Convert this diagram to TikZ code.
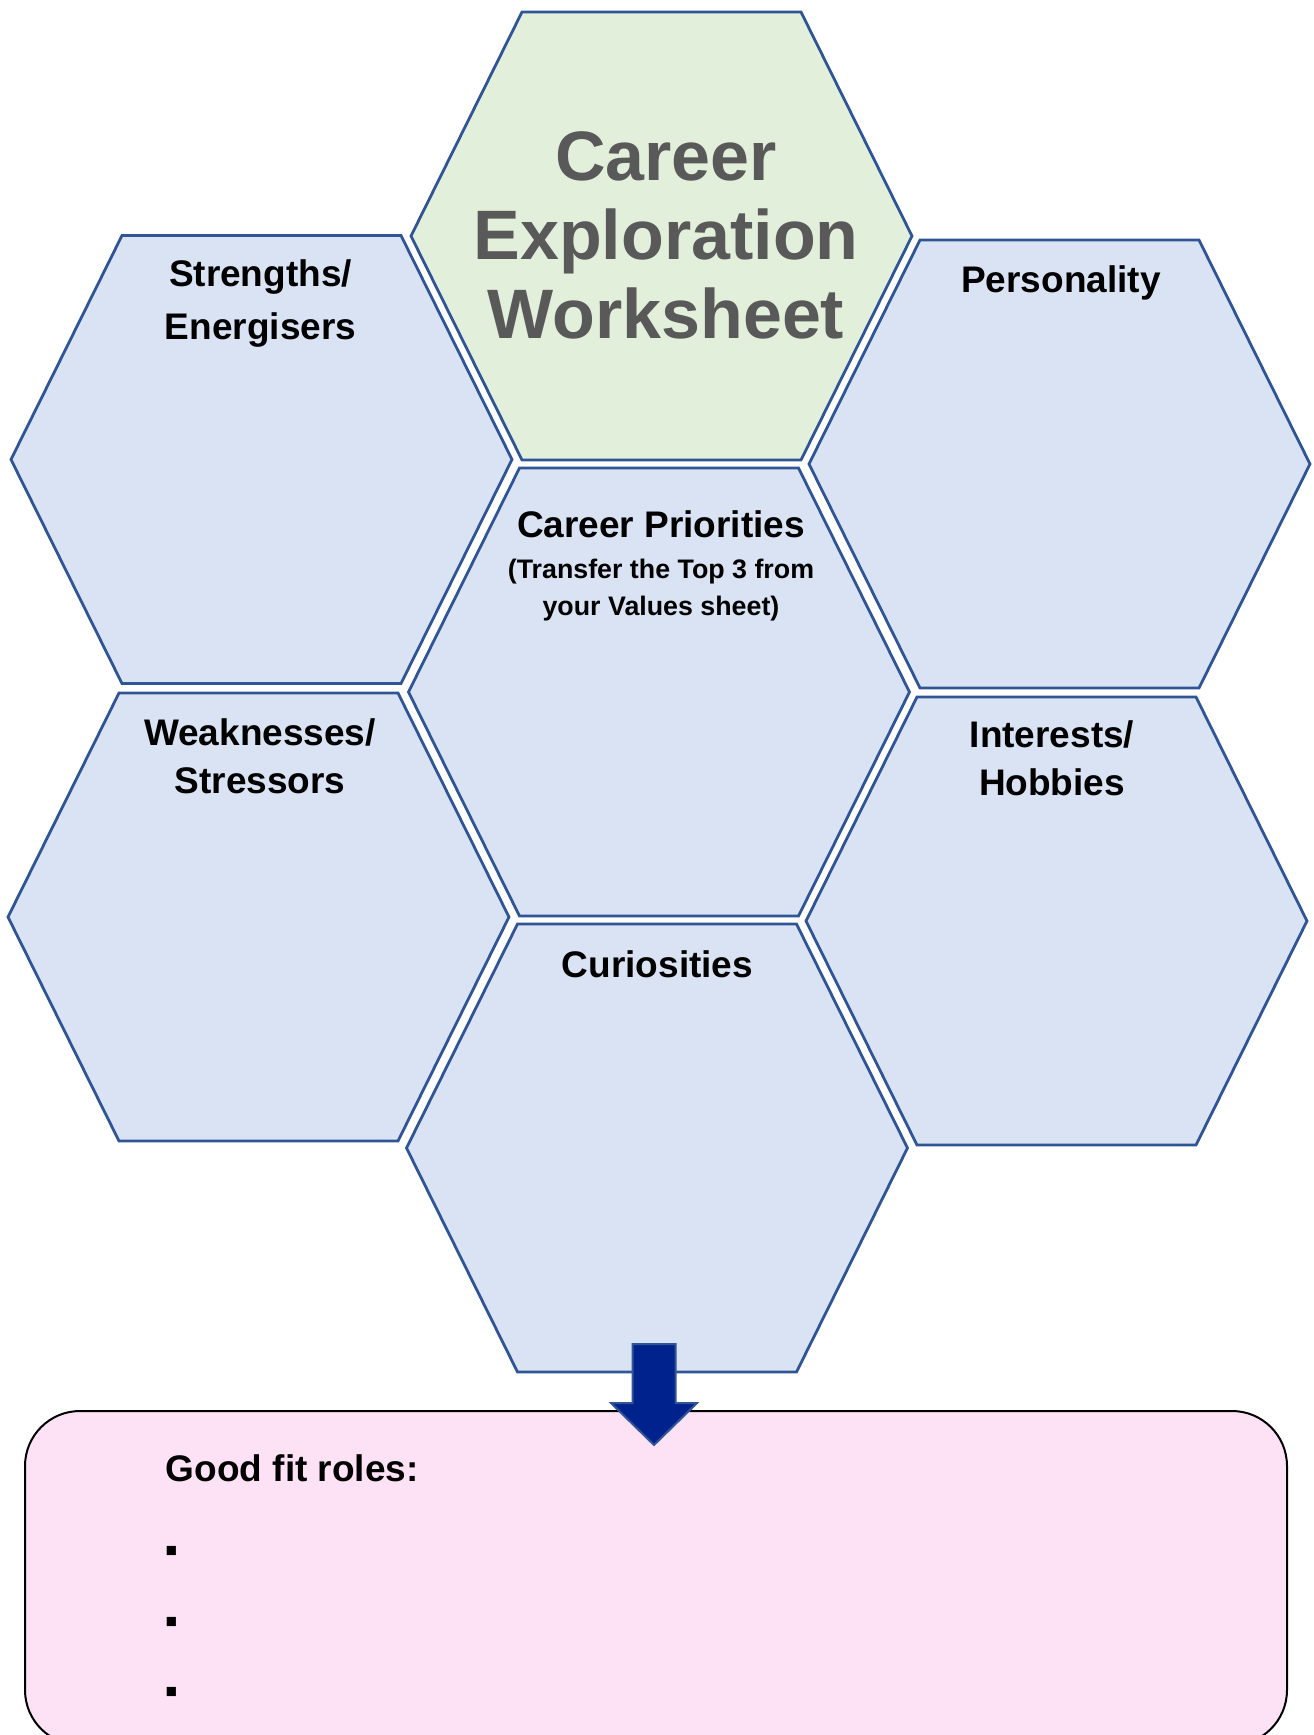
\documentclass[tikz,border=0pt]{standalone}
\usepackage{fontspec}
\setmainfont{Liberation Sans}
\usepackage{tikz}
\usetikzlibrary{positioning}
\definecolor{hex_fill}{RGB}{218,227,243}
\definecolor{hex_line}{RGB}{47,85,151}
\definecolor{head_fill}{RGB}{226,239,218}
\definecolor{title_grey}{RGB}{89,89,89}
\definecolor{roles_fill}{RGB}{253,225,245}
\definecolor{arrow_fill}{RGB}{0,34,140}
% hexagon: name, centre, style
\newcommand*{\hexcell}[3]{%
  \coordinate (#1) at (#2);
  \path[#3] (#1) ++(-250.5,0) -- ++(111,-224) -- ++(279,0) -- ++(111,224) -- ++(-111,224) -- ++(-279,0) -- cycle;}

\begin{document}
\begin{tikzpicture}[x=0.5pt, y=-0.5pt,
hex_cell/.style ={draw=hex_line, line width=1.4pt, fill=hex_fill},
hex_head/.style ={draw=hex_line, line width=1.4pt, fill=head_fill},
text_title/.style ={text=title_grey, font=\fontsize{35}{39.5}\selectfont\bfseries, align=center, inner sep=0pt},
text_label/.style ={font=\fontsize{18.5}{26.5}\selectfont\bfseries, align=center, inner sep=0pt},
text_tight/.style ={font=\fontsize{18.5}{24}\selectfont\bfseries, align=center, inner sep=0pt},
text_note/.style ={font=\fontsize{13.4}{18.5}\selectfont\bfseries, align=center, inner sep=0pt},
box_roles/.style ={rectangle, draw=black, line width=1pt, fill=roles_fill, rounded corners=27.5pt, minimum width=631pt, minimum height=167pt},
block_arrow/.style ={draw=hex_line, line width=1pt, fill=arrow_fill},
bullet_mark/.style ={font=\fontsize{18.5}{22}\selectfont, inner sep=0pt}]
  \useasboundingbox (0,0) rectangle (1313,1735);
  % honeycomb - top row
    \hexcell{hex_title}{661.5,236}{hex_head}
    \hexcell{hex_strengths}{261.5,459.5}{hex_cell}
    \hexcell{hex_personality}{1059.5,464}{hex_cell}
  % honeycomb - middle
    \hexcell{hex_priorities}{659,692}{hex_cell}
    \hexcell{hex_weaknesses}{258.5,917}{hex_cell}
    \hexcell{hex_interests}{1056.5,921}{hex_cell}
  % honeycomb - bottom
    \hexcell{hex_curiosities}{657,1148}{hex_cell}
  % labels
    \node [text_title, anchor=north] (title) at (666,131) {Career\\Exploration\\Worksheet};
    \node [text_label, anchor=north] (strengths) at (260.5,259) {Strengths/\\Energisers};
    \node [text_label, anchor=base] (personality) at (1061,292) {Personality};
    \node [text_label, anchor=base] (priorities) at (661,537) {Career Priorities};
    \node [text_note, below=10.5pt of priorities] (priorities_note) {(Transfer the Top 3 from\\your Values sheet)};
    \node [text_tight, anchor=north] (weaknesses) at (260,718) {Weaknesses/\\Stressors};
    \node [text_tight, anchor=north] (interests) at (1052,720) {Interests/\\Hobbies};
    \node [text_label, anchor=base] (curiosities) at (657.5,977) {Curiosities};
  % result box
    \node [box_roles] (roles) at (656,1578) {};
    \node [text_label, anchor=base west] (roles_title) at (165.5,1481) {Good fit roles:};
    \foreach \y [count=\i] in {1554,1625,1695}
      \node [bullet_mark] (bullet\i) at (171.5,\y) {▪};
  % arrow into the box
    \coordinate (arrow_tip) at (654,1445);
    \draw [block_arrow] (arrow_tip) -- ++(-43,-42) -- ++(21.5,0) -- ++(0,-59) -- ++(43,0) -- ++(0,59) -- ++(21.5,0) -- cycle;
\end{tikzpicture}
\end{document}
